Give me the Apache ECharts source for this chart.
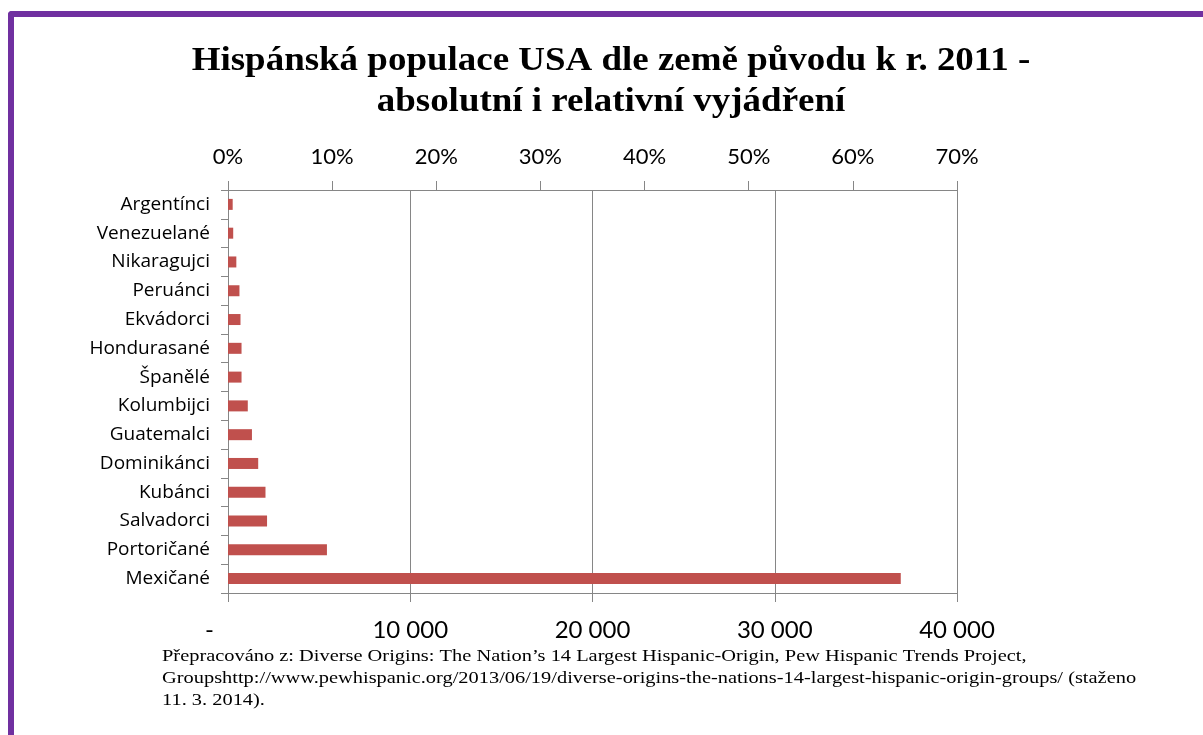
<!DOCTYPE html>
<html>
<head>
<meta charset="utf-8">
<script src="https://cdn.jsdelivr.net/npm/echarts@6/dist/echarts.min.js"></script>
<style>
  html, body { margin: 0; padding: 0; background: #fff; overflow: hidden; }
  #frame {
    position: absolute; left: 8px; top: 11px; width: 1400px; height: 900px;
    border-left: 6px solid #7030A0; border-top: 6px solid #7030A0;
    border-top-left-radius: 4px; box-sizing: border-box;
  }
  #chart { position: absolute; left: 0; top: 0; width: 1203px; height: 735px; }
</style>
</head>
<body>
<div id="frame"></div>
<div id="chart"></div>
<script>
// skupiny shora dolů
const groups = ['Argentínci', 'Venezuelané', 'Nikaragujci', 'Peruánci', 'Ekvádorci', 'Hondurasané',
    'Španělé', 'Kolumbijci', 'Guatemalci', 'Dominikánci', 'Kubánci', 'Salvadorci', 'Portoričané', 'Mexičané']
// podíl na hispánské populaci v %
const sharePct = [0.45, 0.5, 0.8, 1.1, 1.2, 1.3, 1.3, 1.9, 2.3, 2.9, 3.6, 3.75, 9.5, 64.6]
const absTicks = [0, 10000, 20000, 30000, 40000]
const pctTicks = [0, 10, 20, 30, 40, 50, 60, 70]
const titleLines = ['Hispánská populace USA dle země původu k r. 2011 -', 'absolutní i relativní vyjádření']
const sourceLines = [
    'Přepracováno z: Diverse Origins: The Nation’s 14 Largest Hispanic-Origin, Pew Hispanic Trends Project,',
    'Groupshttp://www.pewhispanic.org/2013/06/19/diverse-origins-the-nations-14-largest-hispanic-origin-groups/ (staženo',
    '11. 3. 2014).'
]

const gray = '#868686'
const serif = '"Liberation Serif", "Times New Roman", serif'

function fmtAbs(v) {
    if (v === 0) return '-      '
    return String(v).replace(/\B(?=(\d{3})+(?!\d))/g, ' ')
}

const chart = echarts.init(document.getElementById('chart'), null, { renderer: 'canvas' })

// titulek a zdroj jako graphic, protože jsou v předloze vodorovně roztažené
const titleGraphics = titleLines.map((line, i) => ({
    type: 'text',
    x: 611,
    y: 61 + i * 41,
    scaleX: 1.12,
    style: {
        text: line,
        font: 'bold 33px ' + serif,
        fill: '#000',
        align: 'center',
        verticalAlign: 'middle'
    }
}))
const sourceGraphics = sourceLines.map((line, i) => ({
    type: 'text',
    x: 162,
    y: 657 + i * 22,
    scaleX: 1.2,
    style: {
        text: line,
        font: '17px ' + serif,
        fill: '#000',
        align: 'left',
        verticalAlign: 'middle'
    }
}))

chart.setOption({
    animation: false,
    backgroundColor: 'transparent',
    grid: { left: 228, right: 246, top: 190, bottom: 142, containLabel: false },
    xAxis: [
        {
            type: 'value',
            position: 'bottom',
            min: absTicks[0],
            max: absTicks[absTicks.length - 1],
            interval: absTicks[1] - absTicks[0],
            axisLine: { show: true, lineStyle: { color: gray } },
            axisTick: { show: true, length: 9, lineStyle: { color: gray } },
            splitLine: { show: true, lineStyle: { color: gray, width: 1 } },
            axisLabel: { margin: 25, fontFamily: 'Lato', fontSize: 24, color: '#000', formatter: fmtAbs }
        },
        {
            type: 'value',
            position: 'top',
            min: pctTicks[0],
            max: pctTicks[pctTicks.length - 1],
            interval: pctTicks[1] - pctTicks[0],
            axisLine: { show: true, lineStyle: { color: gray } },
            axisTick: { show: true, length: 9, lineStyle: { color: gray } },
            splitLine: { show: false },
            axisLabel: { margin: 22, fontFamily: 'Lato', fontSize: 22, color: '#000', formatter: '{value}%' }
        }
    ],
    yAxis: {
        type: 'category',
        data: groups,
        inverse: true,
        axisLine: { show: true, lineStyle: { color: gray } },
        axisTick: { show: true, length: 7, lineStyle: { color: gray } },
        axisLabel: { margin: 18, fontFamily: '"Open Sans"', fontSize: 19, color: '#000' }
    },
    series: [{
        type: 'bar',
        xAxisIndex: 1,
        data: sharePct,
        barWidth: 11,
        itemStyle: { color: '#C0504D' }
    }],
    graphic: titleGraphics.concat(sourceGraphics)
})
</script>
</body>
</html>
